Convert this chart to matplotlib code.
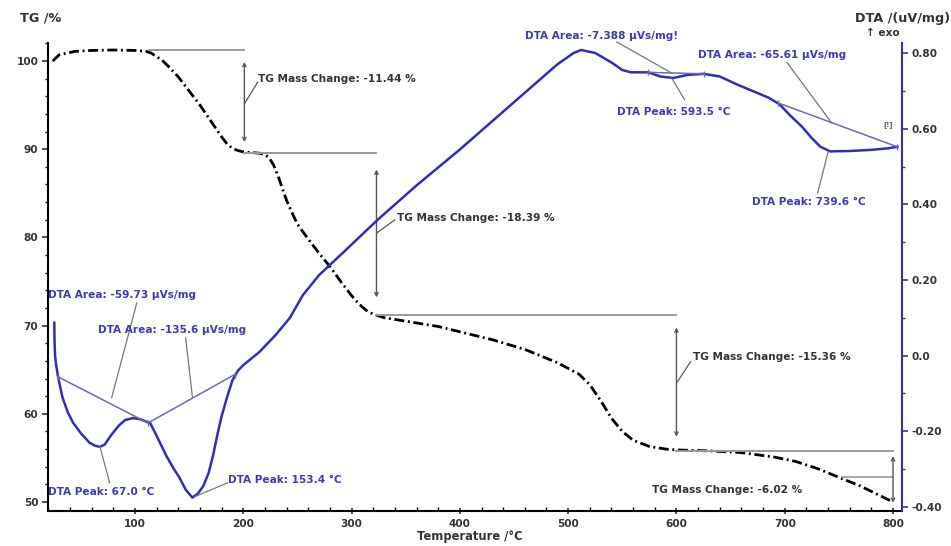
import matplotlib
matplotlib.use("Agg")
import matplotlib.pyplot as plt
from matplotlib.ticker import MultipleLocator, FuncFormatter

# --- DATA ---
tg_temp = [24, 30, 45, 60, 80, 100, 110, 115, 120, 125, 130, 140, 150, 160, 170,
           180, 185, 190, 195, 200, 210, 215, 220, 224, 228, 232, 236, 240, 245,
           250, 260, 270, 280, 290, 300, 305, 310, 315, 320, 330, 350, 380, 400,
           430, 460, 490, 510, 520, 530, 540, 550, 560, 575, 590, 600, 630, 660,
           690, 710, 730, 750, 770, 790, 800]
tg_mass = [100.0, 100.7, 101.1, 101.2, 101.25, 101.2, 101.1, 100.9, 100.5, 100.1,
           99.5, 98.2, 96.6, 95.0, 93.2, 91.4, 90.6, 90.1, 89.85, 89.7, 89.6,
           89.55, 89.4, 89.0, 88.2, 87.0, 85.6, 84.2, 82.8, 81.5, 79.8, 78.2,
           76.7, 75.0, 73.4, 72.7, 72.1, 71.6, 71.3, 70.9, 70.5, 69.9, 69.3, 68.4,
           67.3, 65.8, 64.5, 63.3, 61.5, 59.5, 58.0, 57.0, 56.3, 56.0, 55.9, 55.8,
           55.6, 55.1, 54.6, 53.8, 52.8, 51.8, 50.6, 50.0]

dta_temp = [25.5, 25.7, 26.2, 27.2, 29, 33, 38, 43, 50, 58, 63, 67.7, 72, 78, 85,
            91, 98, 105, 111, 114, 120, 129, 136, 141, 147, 153, 158, 163, 168,
            172, 176, 180, 185, 190, 195, 200, 215, 230, 243, 255, 270, 292, 324,
            360, 400, 450, 490, 505, 512, 525, 540, 550, 558, 574, 585, 597, 610,
            625, 640, 655, 670, 685, 695, 705, 716, 725, 733, 742, 760, 780, 795,
            804]
dta_val = [0.087, 0.04, 0.0, -0.025, -0.056, -0.11, -0.15, -0.178, -0.205, -0.23,
           -0.238, -0.241, -0.235, -0.21, -0.185, -0.17, -0.165, -0.168, -0.175,
           -0.178, -0.212, -0.265, -0.30, -0.322, -0.355, -0.375, -0.365, -0.345,
           -0.31, -0.265, -0.21, -0.16, -0.11, -0.065, -0.04, -0.025, 0.01, 0.055,
           0.10, 0.16, 0.213, 0.272, 0.359, 0.45, 0.545, 0.67, 0.77, 0.80, 0.808,
           0.80, 0.775, 0.755, 0.749, 0.749, 0.738, 0.734, 0.742, 0.745, 0.738,
           0.718, 0.70, 0.682, 0.665, 0.635, 0.605, 0.575, 0.552, 0.54, 0.541,
           0.544, 0.548, 0.552]

# DTA baselines (temperature, value)
base_left = ([29, 112, 192], [-0.056, -0.178, -0.05])
base_mid = ([574, 625], [0.749, 0.745])
base_right = ([694, 804], [0.668, 0.552])

# TG step results
tg_steps = ["-11.44", "-18.39", "-15.36", "-6.02"]

BLUE = "#2f2fb5"
TXTBLUE = "#3b3bb0"
GREY = "#9a9a9a"
DARK = "#333333"

plt.rcParams["font.family"] = "DejaVu Sans"
plt.rcParams["font.weight"] = "bold"

fig = plt.figure(figsize=(9.51, 5.46), dpi=100)
ax = fig.add_axes([0.0505, 0.0641, 0.898, 0.8571])
ax2 = ax.twinx()

ax.set_xlim(19.7, 808.3)
ax.set_ylim(48.98, 102.04)
ax2.set_ylim(-0.4106, 0.8264)

# TG curve
ax.plot(tg_temp, tg_mass, color="black", lw=2.0, dashes=(3.6, 1.3, 0.7, 1.3))

# TG construction lines
ax.plot([113, 201], [101.2, 101.2], color=GREY, lw=1.4)
ax.plot([201, 323], [89.6, 89.6], color=GREY, lw=1.4)
ax.plot([323, 600], [71.2, 71.2], color=GREY, lw=1.4)
ax.plot([600, 800], [55.8, 55.8], color=GREY, lw=1.4)
ax.plot([753, 800], [52.8, 52.8], color=GREY, lw=1.2)
for x, y0, y1 in [(201, 99.9, 90.8), (323, 87.7, 73.2), (600, 69.8, 57.4), (800, 55.2, 49.9)]:
    ax.annotate("", xy=(x, y1), xytext=(x, y0),
                arrowprops=dict(arrowstyle="<->", color="#555555", lw=1.0,
                                mutation_scale=6, shrinkA=0, shrinkB=0))

# TG labels + leaders
tg_text_pos = [(213.5, 97.96), (341.7, 82.2), (615, 66.4), (577, 51.4)]
tg_leaders = [((201.3, 95.2), (213.3, 97.6)), ((323.2, 80.5), (340, 82.0)),
              ((601, 63.65), (613, 65.9))]
for (a, b) in tg_leaders:
    ax.plot([a[0], b[0]], [a[1], b[1]], color="#555555", lw=0.9)
for (x, y), s in zip(tg_text_pos, tg_steps):
    ax.text(x, y, f"TG Mass Change: {s} %", fontsize=7.6, color=DARK,
            va="center", ha="left", fontweight="bold")

# DTA curve and baselines
ax2.plot(dta_temp, dta_val, color=BLUE, lw=1.8)
for bx, by in [base_left, base_mid, base_right]:
    ax2.plot(bx, by, color="#6a6ab8", lw=1.1, marker="|", ms=5, mew=1)

# DTA leaders
dta_leaders = [((101.6, 0.139), (78.5, -0.111)), ((146.8, 0.047), (153, -0.109)),
               ((67.7, -0.241), (76.6, -0.336)), ((155, -0.373), (185.6, -0.336)),
               ((545, 0.829), (595.6, 0.747)), ((595.6, 0.734), (607.6, 0.676)),
               ((701.8, 0.776), (743.4, 0.615)), ((740, 0.538), (730.4, 0.43))]
for a, b in dta_leaders:
    ax2.plot([a[0], b[0]], [a[1], b[1]], color="#777777", lw=0.9, clip_on=False)

dta_labels = [(19.5, 0.161, "DTA Area: -59.73 \u03bcVs/mg"),
              (65.5, 0.068, "DTA Area: -135.6 \u03bcVs/mg"),
              (19.5, -0.36, "DTA Peak: 67.0 \u00b0C"),
              (185.6, -0.328, "DTA Peak: 153.4 \u00b0C"),
              (460, 0.845, "DTA Area: -7.388 \u03bcVs/mg!"),
              (545, 0.644, "DTA Peak: 593.5 \u00b0C"),
              (620, 0.795, "DTA Area: -65.61 \u03bcVs/mg"),
              (669.5, 0.406, "DTA Peak: 739.6 \u00b0C")]
for x, y, s in dta_labels:
    ax2.text(x, y, s, fontsize=7.6, color=TXTBLUE, va="center", ha="left",
             fontweight="bold", clip_on=False)
ax2.text(791.5, 0.612, "[!]", fontsize=5, color="#555555", va="center", ha="left")

# spines and ticks
for a in (ax, ax2):
    a.spines["top"].set_visible(False)
ax.spines["right"].set_visible(False)
ax2.spines["left"].set_visible(False)
ax2.spines["bottom"].set_visible(False)
ax.spines["left"].set_linewidth(1.5)
ax.spines["bottom"].set_linewidth(1.5)
ax2.spines["right"].set_color(BLUE)
ax2.spines["right"].set_linewidth(1.5)

ax.xaxis.set_major_locator(MultipleLocator(100))
ax.xaxis.set_minor_locator(MultipleLocator(20))
ax.yaxis.set_major_locator(MultipleLocator(10))
ax.yaxis.set_minor_locator(MultipleLocator(2))
ax2.yaxis.set_major_locator(MultipleLocator(0.2))
ax2.yaxis.set_minor_locator(MultipleLocator(0.1))
ax2.yaxis.set_major_formatter(FuncFormatter(lambda v, p: "0.0" if abs(v) < 1e-9 else f"{v:.2f}"))

ax.tick_params(axis="x", which="major", direction="inout", length=5, width=1.2,
               labelsize=7.6, colors=DARK, pad=3)
ax.tick_params(axis="x", which="minor", direction="in", length=3, width=1)
ax.tick_params(axis="y", which="major", direction="out", length=4, width=1.2,
               labelsize=7.6, colors=DARK, pad=3)
ax.tick_params(axis="y", which="minor", direction="out", length=2, width=1)
ax2.tick_params(axis="y", which="major", direction="out", length=4, width=1.2,
                labelsize=7.6, colors=BLUE, labelcolor=DARK, pad=3)
ax2.tick_params(axis="y", which="minor", direction="out", length=2, width=1, colors=BLUE)
for lab in ax.get_xticklabels() + ax.get_yticklabels() + ax2.get_yticklabels():
    lab.set_fontweight("bold")

fig.text(0.021, 0.967, "TG /%", fontsize=9.2, color=DARK, fontweight="bold", va="center")
fig.text(0.999, 0.967, "DTA /(uV/mg)", fontsize=9.2, color=DARK, fontweight="bold",
         va="center", ha="right")
fig.text(0.946, 0.94, "\u2191 exo", fontsize=7.6, color=DARK, fontweight="bold",
         va="center", ha="right")
fig.text(0.494, 0.017, "Temperature /\u00b0C", fontsize=8.3, color=DARK,
         fontweight="bold", va="center", ha="center")

fig.savefig("out.png", dpi=100)
